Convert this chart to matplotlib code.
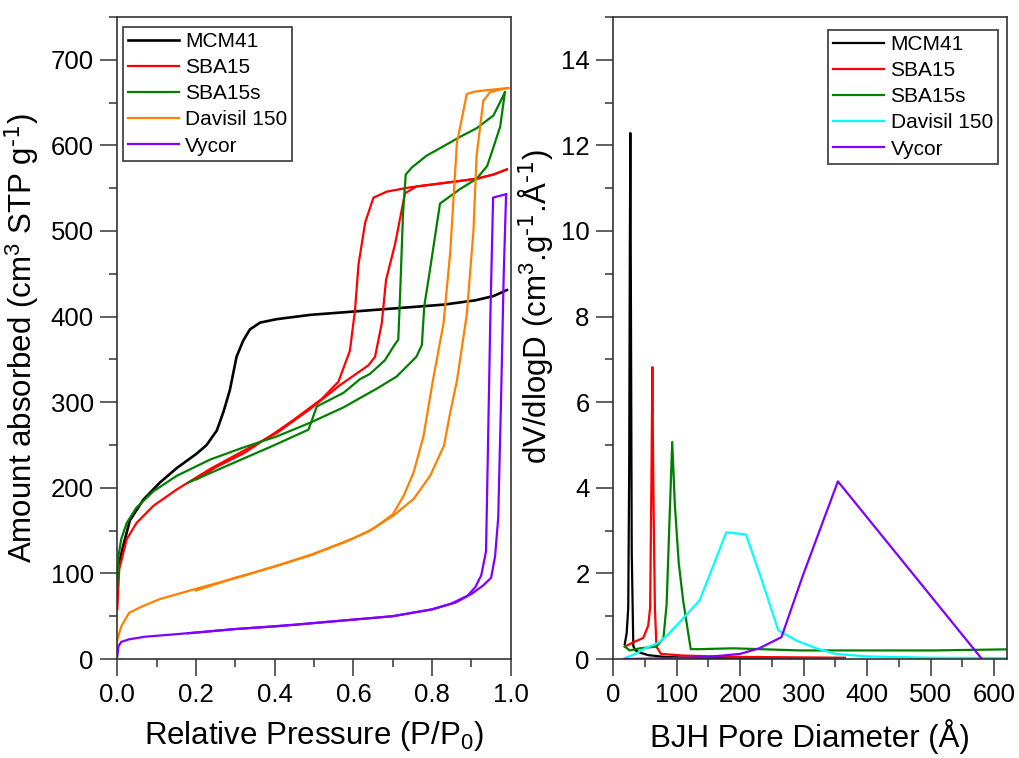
import matplotlib
matplotlib.use("Agg")
import matplotlib.pyplot as plt
from matplotlib.ticker import MultipleLocator

plt.rcParams['font.family'] = ['Liberation Sans', 'DejaVu Sans']
plt.rcParams['mathtext.default'] = 'regular'

# ---- isotherms (left panel) ----
mcm41_p = [0.0, 0.015, 0.032, 0.066, 0.108, 0.151, 0.202, 0.227, 0.253, 0.27, 0.286,
           0.303, 0.32, 0.337, 0.363, 0.405, 0.49, 0.66, 0.83, 0.91, 0.956, 0.99]
mcm41_v = [103, 132, 162, 186, 206, 223, 240, 250, 267, 289, 314,
           353, 372, 385, 393, 397, 402, 408, 414, 419, 424, 431]

sba15_ads_p = [0.0, 0.005, 0.024, 0.049, 0.092, 0.151, 0.236, 0.32, 0.405, 0.49, 0.566,
               0.638, 0.655, 0.672, 0.683, 0.706, 0.731, 0.76, 0.829, 0.913, 0.956, 0.99]
sba15_ads_v = [58, 105, 140, 159, 179, 198, 222, 243, 264, 292, 320,
               343, 353, 392, 443, 485, 544, 552, 556, 561, 566, 572]
sba15_des_p = [0.99, 0.956, 0.913, 0.829, 0.744, 0.685, 0.651, 0.63, 0.613, 0.604, 0.591,
               0.562, 0.52, 0.45, 0.4, 0.32, 0.25, 0.203]
sba15_des_v = [572, 566, 561, 556, 551, 546, 539, 510, 461, 407, 360,
               324, 304, 280, 264, 240, 224, 210]

sba15s_ads_p = [0.0, 0.003, 0.01, 0.024, 0.049, 0.092, 0.151, 0.236, 0.32, 0.405, 0.49,
                0.575, 0.66, 0.71, 0.76, 0.774, 0.78, 0.795, 0.82, 0.871, 0.913, 0.94,
                0.956, 0.973, 0.985]
sba15s_ads_v = [82, 120, 140, 159, 177, 196, 214, 233, 247, 260, 276,
                294, 316, 330, 353, 367, 412, 456, 532, 549, 561, 576,
                598, 622, 662]
sba15s_des_p = [0.985, 0.956, 0.913, 0.871, 0.829, 0.786, 0.748, 0.733, 0.726, 0.719, 0.714,
                0.706, 0.68, 0.642, 0.617, 0.575, 0.507, 0.486, 0.4, 0.3, 0.18]
sba15s_des_v = [662, 635, 620, 610, 599, 588, 574, 566, 520, 430, 373,
                368, 349, 333, 327, 311, 295, 268, 250, 230, 206]

dav_ads_p = [0.0, 0.01, 0.03, 0.066, 0.108, 0.2, 0.32, 0.405, 0.49, 0.575, 0.634,
             0.7, 0.753, 0.795, 0.83, 0.846, 0.863, 0.888, 0.905, 0.913, 0.93, 0.947,
             0.97, 0.994]
dav_ads_v = [22, 38, 54, 62, 70, 82, 97, 109, 121, 136, 148,
             167, 187, 214, 249, 288, 325, 402, 500, 588, 652, 662,
             665, 667]
dav_des_p = [0.994, 0.95, 0.91, 0.888, 0.875, 0.863, 0.846, 0.829, 0.803, 0.778, 0.753,
             0.727, 0.7, 0.65, 0.6, 0.5, 0.4, 0.3, 0.2]
dav_des_v = [667, 665, 663, 660, 630, 603, 475, 392, 328, 260, 218,
             190, 169, 152, 141, 123, 108, 95, 80]

vyc_ads_p = [0.0, 0.003, 0.01, 0.03, 0.07, 0.15, 0.3, 0.45, 0.6, 0.7, 0.8, 0.86, 0.9,
             0.93, 0.95, 0.96, 0.968, 0.975, 0.982, 0.988]
vyc_ads_v = [3, 15, 20, 23, 26, 29, 35, 40, 46, 50, 58, 66, 76,
             86, 95, 120, 165, 300, 450, 543]
vyc_des_p = [0.988, 0.955, 0.948, 0.94, 0.937, 0.925, 0.91, 0.89, 0.85, 0.8, 0.7, 0.6,
             0.5, 0.4, 0.3, 0.18]
vyc_des_v = [543, 539, 400, 200, 126, 98, 84, 74, 65, 58, 50, 46,
             42, 38, 35, 30]

# ---- BJH pore size distributions (right panel) ----
mcm41_d = [18, 21, 23.5, 25, 26, 26.8, 27.8, 29, 31.5, 35, 42, 55, 80, 120, 200, 300, 365]
mcm41_dv = [0.35, 0.6, 1.2, 4.5, 9.5, 12.29, 8.0, 2.5, 0.3, 0.2, 0.15, 0.09, 0.05, 0.03,
            0.02, 0.02, 0.02]
sba15_d = [18, 31.5, 47, 55, 58, 60, 61.5, 63, 65.5, 68, 75, 110, 189, 365]
sba15_dv = [0.29, 0.39, 0.49, 0.78, 1.2, 4.1, 6.82, 4.1, 1.2, 0.29, 0.12, 0.08, 0.05, 0.03]
sba15s_d = [18, 26, 42, 68, 79, 84, 88, 92.8, 97, 103, 110, 122, 136, 189, 294, 399, 504, 640]
sba15s_dv = [0.29, 0.2, 0.25, 0.29, 0.49, 1.28, 3.0, 5.07, 3.6, 2.26, 1.37, 0.23, 0.23,
             0.25, 0.2, 0.2, 0.2, 0.23]
dav_d = [18, 35, 50, 70, 84, 110, 136, 157, 178, 209, 235, 260, 290, 320, 350, 400, 500, 640]
dav_dv = [0.02, 0.12, 0.25, 0.37, 0.54, 0.95, 1.37, 2.16, 2.96, 2.91, 1.8, 0.67, 0.42,
          0.25, 0.12, 0.06, 0.03, 0.02]
vyc_d = [18, 100, 150, 200, 230, 265, 299, 354, 581]
vyc_dv = [0.0, 0.02, 0.05, 0.12, 0.25, 0.51, 1.96, 4.15, 0.0]

labels = ["MCM41", "SBA15", "SBA15s", "Davisil 150", "Vycor"]
colors_left = ["#000000", "#ff0000", "#008000", "#ff8000", "#8000ff"]
colors_right = ["#000000", "#ff0000", "#008000", "#00ffff", "#8000ff"]

fig = plt.figure(figsize=(10.19, 7.58), dpi=100)
ax1 = fig.add_axes([0.1151, 0.1306, 0.3862, 0.847])
ax2 = fig.add_axes([0.6019, 0.1306, 0.3866, 0.847])

lw = 1.6
ax1.plot(mcm41_p, mcm41_v, color=colors_left[0], lw=lw + 0.3, label=labels[0])
ax1.plot(sba15_ads_p, sba15_ads_v, color=colors_left[1], lw=lw, label=labels[1])
ax1.plot(sba15_des_p, sba15_des_v, color=colors_left[1], lw=lw)
ax1.plot(sba15s_ads_p, sba15s_ads_v, color=colors_left[2], lw=lw, label=labels[2])
ax1.plot(sba15s_des_p, sba15s_des_v, color=colors_left[2], lw=lw)
ax1.plot(dav_ads_p, dav_ads_v, color=colors_left[3], lw=lw, label=labels[3])
ax1.plot(dav_des_p, dav_des_v, color=colors_left[3], lw=lw)
ax1.plot(vyc_ads_p, vyc_ads_v, color=colors_left[4], lw=lw, label=labels[4])
ax1.plot(vyc_des_p, vyc_des_v, color=colors_left[4], lw=lw)

ax2.plot(mcm41_d, mcm41_dv, color=colors_right[0], lw=lw, label=labels[0])
ax2.plot(sba15_d, sba15_dv, color=colors_right[1], lw=lw, label=labels[1])
ax2.plot(sba15s_d, sba15s_dv, color=colors_right[2], lw=lw, label=labels[2])
ax2.plot(dav_d, dav_dv, color=colors_right[3], lw=lw, label=labels[3])
ax2.plot(vyc_d, vyc_dv, color=colors_right[4], lw=lw, label=labels[4])

ax1.set_xlim(0, 1.0)
ax1.set_ylim(0, 750)
ax1.xaxis.set_minor_locator(MultipleLocator(0.1))
ax1.yaxis.set_minor_locator(MultipleLocator(50))
ax1.set_xticks([0, 0.2, 0.4, 0.6, 0.8, 1.0])
ax1.set_xticklabels(["0.0", "0.2", "0.4", "0.6", "0.8", "1.0"])
ax1.set_yticks([0, 100, 200, 300, 400, 500, 600, 700])

ax2.set_xlim(0, 621)
ax2.set_ylim(0, 15)
ax2.xaxis.set_minor_locator(MultipleLocator(50))
ax2.yaxis.set_minor_locator(MultipleLocator(1))
ax2.set_xticks([0, 100, 200, 300, 400, 500, 600])
ax2.set_yticks([0, 2, 4, 6, 8, 10, 12, 14])

for ax in (ax1, ax2):
    ax.tick_params(which='major', direction='out', length=12, width=1.1, labelsize=18.5,
                   color='#333333', pad=5)
    ax.tick_params(which='minor', direction='out', length=6, width=1.1, color='#333333')
    for s in ax.spines.values():
        s.set_linewidth(1.2)
        s.set_color('#333333')

ax1.set_xlabel("Relative Pressure (P/P$_0$)", fontsize=22.5, labelpad=9)
ax1.set_ylabel(r"Amount absorbed (cm$^3$ STP g$^{\text{-1}}$)", fontsize=22.5, labelpad=6)
ax2.set_xlabel("BJH Pore Diameter (Å)", fontsize=22.5, labelpad=9)
ax2.set_ylabel(r"dV/dlogD (cm$^3$.g$^{\text{-1}}$.Å$^{\text{-1}}$)", fontsize=22.5, labelpad=4)
ax2.yaxis.label.set_y(0.548)

leg_kw = dict(fontsize=15, fancybox=False, framealpha=1, edgecolor='#444444',
              handlelength=2.45, handletextpad=0.3, labelspacing=0.34, borderpad=0.25,
              borderaxespad=0)
leg1 = ax1.legend(loc='upper left', bbox_to_anchor=(122.5 / 1019, 1 - 27 / 758),
                  bbox_transform=fig.transFigure, **leg_kw)
leg2 = ax2.legend(loc='upper right', bbox_to_anchor=(998 / 1019, 1 - 30 / 758),
                  bbox_transform=fig.transFigure, **leg_kw)
for leg in (leg1, leg2):
    leg.get_frame().set_linewidth(1.3)

fig.savefig("out.png", dpi=100)
